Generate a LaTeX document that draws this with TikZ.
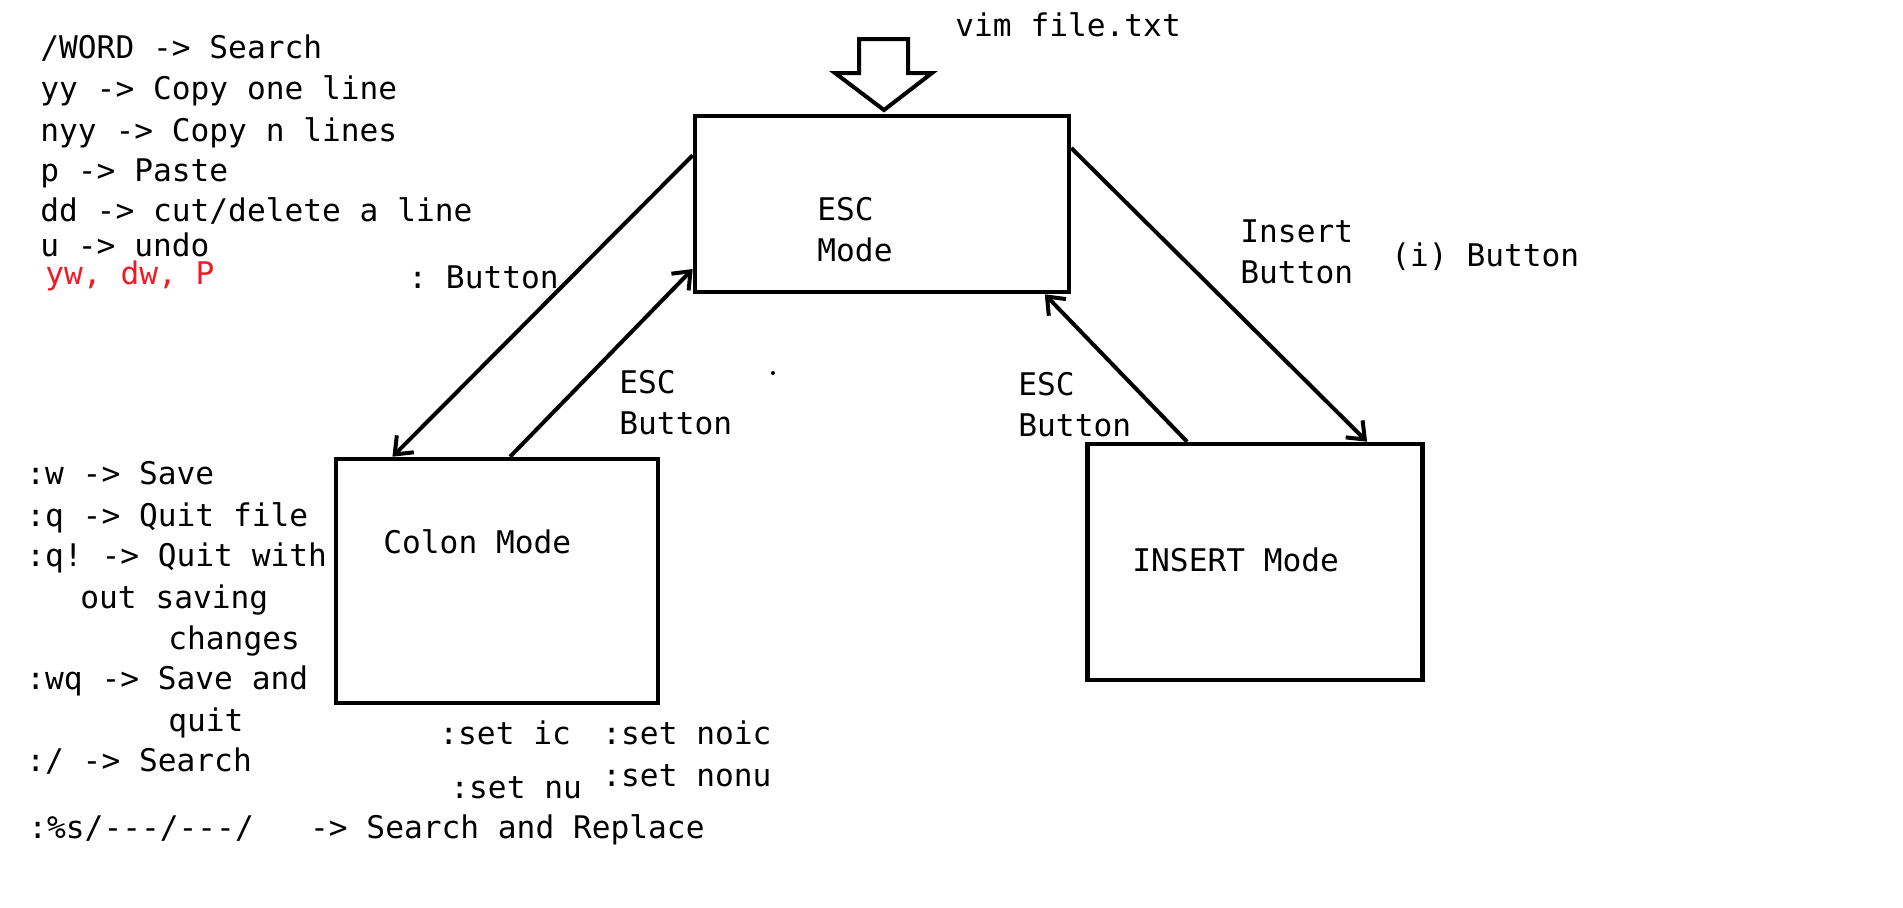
\documentclass[tikz,border=0pt]{standalone}
\usepackage{fontspec}
\newfontfamily\vimfont{DejaVu Sans Mono}
\usetikzlibrary{arrows.meta,calc}
\definecolor{pred}{RGB}{237,28,36}
\frenchspacing
\begin{document}
\begin{tikzpicture}[x=0.5pt,y=-0.5pt,
 txt/.style={anchor=base west,inner sep=0pt,font=\vimfont\fontsize{15.6pt}{20.5pt}\selectfont\frenchspacing},
 mtxt/.style={anchor=west,inner sep=0pt,align=left,font=\vimfont\fontsize{15.6pt}{20.5pt}\selectfont\frenchspacing},
 box/.style={draw,line width=2.3pt,inner sep=0pt},
 conn/.style={line width=2pt,-{Straight Barb[length=7.5pt,width=12pt]}}]
\useasboundingbox[fill=white] (0,0) rectangle (1903,907);

% boxes
\node[box,minimum width=187pt,minimum height=88pt] (esc) at (882,204) {};
\node[box,minimum width=161pt,minimum height=122pt] (colon) at (497,581) {};
\node[box,minimum width=167.5pt,minimum height=118pt] (ins) at (1255,562) {};

% entry arrow
\coordinate (tip) at (884,110);
\draw[line width=2pt,line join=miter] (tip) -- (835,73) -- (859,73) -- (859,39) -- (908,39) -- (908,73) -- (932,73) -- cycle;
\node[txt] (vim) at (955,36) {vim file.txt};

% box labels
\node[mtxt] (escl) at (817,230) {ESC\\Mode};
\node[txt] (colonl) at (383,553) {Colon Mode};
\node[txt] (insl) at (1132,571) {INSERT Mode};

% connectors
\draw[conn] ($(esc.north west)!0.23!(esc.south west)$) -- ($(colon.north west)!0.18!(colon.north east)$);
\draw[conn] ($(colon.north west)!0.54!(colon.north east)$) -- ($(esc.north west)!0.86!(esc.south west)$);
\draw[conn] ($(esc.north east)!0.19!(esc.south east)$) -- ($(ins.north west)!0.83!(ins.north east)$);
\draw[conn] ($(ins.north west)!0.30!(ins.north east)$) -- ($(esc.south west)!0.93!(esc.south east)$);

% connector labels
\node[txt] (colbtn) at (408,288) {: Button};
\node[mtxt] (escbtn1) at (619,403) {ESC\\Button};
\node[mtxt] (escbtn2) at (1018,405) {ESC\\Button};
\node[mtxt] (insbtn) at (1240,252) {Insert\\Button};
\node[txt] (ibtn) at (1391,266) {(i) Button};
\fill (773,373) circle (1pt);

% top-left notes
\node[txt] (t1) at (40,58) {/WORD -> Search};
\node[txt] (t2) at (40,99) {yy -> Copy one line};
\node[txt] (t3) at (40,141) {nyy -> Copy n lines};
\node[txt] (t4) at (40,181) {p -> Paste};
\node[txt] (t5) at (40,221) {dd -> cut/delete a line};
\node[txt] (t6) at (40,256) {u -> undo};
\node[txt,text=pred] (t7) at (45,284) {yw, dw, P};

% colon commands
\node[txt] (c1) at (26,484) {:w -> Save};
\node[txt] (c2) at (26,526) {:q -> Quit file};
\node[txt] (c3) at (26,566) {:q! -> Quit with};
\node[txt] (c4) at (80,608) {out saving};
\node[txt] (c5) at (168,649) {changes};
\node[txt] (c6) at (26,689) {:wq -> Save and};
\node[txt] (c7) at (168,731) {quit};
\node[txt] (c8) at (26,771) {:/ -> Search};
\node[txt] (c9) at (28,838) {:\%s/---/---/~~~-> Search and Replace};

% set options
\node[txt] (s1) at (439,744) {:set ic};
\node[txt] (s2) at (450,798) {:set nu};
\node[txt] (s3) at (602,744) {:set noic};
\node[txt] (s4) at (602,786) {:set nonu};
\end{tikzpicture}
\end{document}
